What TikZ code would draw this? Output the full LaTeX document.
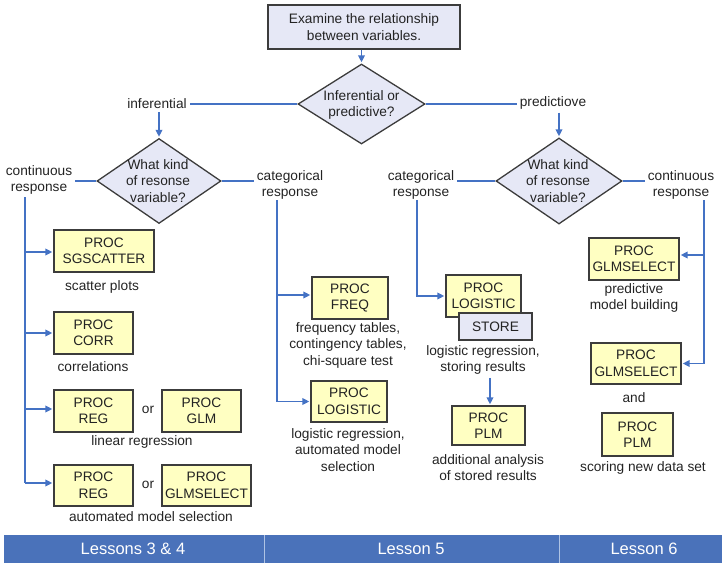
\documentclass[tikz,border=0pt]{standalone}
\usepackage{fontspec}
\setmainfont{Liberation Sans}
\usetikzlibrary{shapes.geometric,arrows.meta,calc}
\definecolor{boxfill}{RGB}{255,255,194}
\definecolor{lav}{RGB}{230,232,246}
\definecolor{edgecol}{RGB}{60,60,60}
\definecolor{conncol}{RGB}{68,114,196}
\definecolor{barcol}{RGB}{74,114,186}
\definecolor{barline}{RGB}{175,195,228}
\definecolor{txt}{RGB}{35,35,35}
\begin{document}
\begin{tikzpicture}[x=1pt,y=-1pt,
  every node/.style={font=\fontsize{13.7}{16.5}\selectfont, text=txt},
  procbox/.style={draw=edgecol, line width=1.3pt, fill=boxfill, align=center, inner sep=0pt},
  lavbox/.style={procbox, fill=lav},
  decision/.style={diamond, draw=edgecol, line width=1.3pt, fill=lav, inner sep=0pt},
  lbl/.style={align=center, inner sep=3pt},
  connline/.style={draw=conncol, line width=1.8pt},
  arr/.style={connline, -{Triangle[length=7pt,width=6.5pt]}, shorten >=1pt},
  bartext/.style={text=white, font=\fontsize{16.5}{18}\selectfont},
]
\useasboundingbox (0,0) rectangle (726,565);

% top box and decisions
\node[lavbox, minimum width=192pt, minimum height=44pt] (top) at (364,27) {Examine the relationship\\between variables.};
\node[decision, minimum width=127pt, minimum height=80pt] (d1) at (361.5,104) {};
\node[lbl, inner sep=0pt] (d1t) at (361.5,105) {Inferential or\\predictive?};
\node[decision, minimum width=124pt, minimum height=85pt] (d2) at (159,181) {};
\node[lbl, inner sep=0pt] (d2t) at (158,181) {What kind\\of resonse\\variable?};
\node[decision, minimum width=126pt, minimum height=86pt] (d3) at (559,181) {};
\node[lbl, inner sep=0pt] (d3t) at (558,181) {What kind\\of resonse\\variable?};

% branch labels
\node[lbl] (inf) at (157,104) {inferential};
\node[lbl] (pred) at (553,103) {predictiove};
\node[lbl] (cont1) at (39,180) {continuous\\response};
\node[lbl] (cat1) at (290,185) {categorical\\response};
\node[lbl] (cat2) at (421,185) {categorical\\response};
\node[lbl] (cont2) at (681,185) {continuous\\response};

% inferential / continuous boxes
\node[procbox, minimum width=100pt, minimum height=42pt] (sg) at (104,251) {PROC\\SGSCATTER};
\node[lbl] (sgl) at (102,287) {scatter plots};
\node[procbox, minimum width=79pt, minimum height=42pt] (corr) at (93.5,333) {PROC\\CORR};
\node[lbl] (corrl) at (93,367) {correlations};
\node[procbox, minimum width=79pt, minimum height=42pt] (reg1) at (93.5,411) {PROC\\REG};
\node[lbl] (or1) at (148,410) {or};
\node[procbox, minimum width=79pt, minimum height=42pt] (glm) at (201.5,411) {PROC\\GLM};
\node[lbl] (regl) at (142,442) {linear regression};
\node[procbox, minimum width=79pt, minimum height=41pt] (reg2) at (93.5,485.5) {PROC\\REG};
\node[lbl] (or2) at (148,485) {or};
\node[procbox, minimum width=89pt, minimum height=41pt] (glms0) at (206.5,485.5) {PROC\\GLMSELECT};
\node[lbl] (autol) at (151,517) {automated model selection};

% inferential / categorical boxes
\node[procbox, minimum width=76pt, minimum height=42pt] (freq) at (350,298) {PROC\\FREQ};
\node[lbl] (freql) at (348,345) {frequency tables,\\contingency tables,\\chi-square test};
\node[procbox, minimum width=76pt, minimum height=41pt] (log1) at (349,401.5) {PROC\\LOGISTIC};
\node[lbl] (log1l) at (348,450) {logistic regression,\\automated model\\selection};

% predictive / categorical boxes
\node[procbox, minimum width=75pt, minimum height=42pt] (log2) at (483.5,296) {PROC\\LOGISTIC};
\node[lavbox, minimum width=73pt, minimum height=27pt] (store) at (495.5,326.5) {STORE};
\node[lbl] (log2l) at (483,360) {logistic regression,\\storing results};
\node[procbox, minimum width=73pt, minimum height=39pt] (plm1) at (488.5,425.5) {PROC\\PLM};
\node[lbl] (plm1l) at (488,467.5) {additional analysis\\of stored results};

% predictive / continuous boxes
\node[procbox, minimum width=90pt, minimum height=42pt] (glms1) at (634,259) {PROC\\GLMSELECT};
\node[lbl] (glms1l) at (634,298) {predictive\\model building};
\node[procbox, minimum width=90pt, minimum height=41pt] (glms2) at (636,363.5) {PROC\\GLMSELECT};
\node[lbl] (andl) at (634,398) {and};
\node[procbox, minimum width=71pt, minimum height=43pt] (plm2) at (637.5,434.5) {PROC\\PLM};
\node[lbl] (plm2l) at (643,468) {scoring new data set};

% trunk coordinates
\coordinate (t1) at (25,197);
\coordinate (t2) at (277,200);
\coordinate (t3) at (417,200);
\coordinate (t4) at (704,200);

% connectors
\draw[arr] (top.south -| d1.north) -- (d1.north);
\draw[connline] (d1.west) -- (d1.west -| inf.east);
\draw[connline] (d1.east) -- (d1.east -| pred.west);
\draw[arr] (inf.south -| d2.north) -- (d2.north);
\draw[arr] (pred.south -| d3.north) -- (d3.north);
\draw[connline] (d2.west) -- (d2.west -| cont1.east);
\draw[connline] (d2.east) -- (d2.east -| cat1.west);
\draw[connline] (d3.west) -- (d3.west -| cat2.east);
\draw[connline] (d3.east) -- (d3.east -| cont2.west);

\draw[connline] (t1) -- ($(t1 |- reg2.west)+(0,-2.5)$);
\draw[arr] ($(t1 |- sg.west)+(0,1)$) -- ($(sg.west)+(0,1)$);
\draw[arr] (t1 |- corr.west) -- (corr.west);
\draw[arr] ($(t1 |- reg1.west)+(0,-2)$) -- ($(reg1.west)+(0,-2)$);
\draw[arr] ($(t1 |- reg2.west)+(0,-2.5)$) -- ($(reg2.west)+(0,-2.5)$);

\draw[connline] (t2) -- (t2 |- log1.west);
\draw[arr] ($(t2 |- freq.west)+(0,-3)$) -- ($(freq.west)+(0,-3)$);
\draw[arr] (t2 |- log1.west) -- (log1.west);

\draw[arr] (t3) |- (log2.west);

\draw[connline] (t4) -- (t4 |- glms2.east);
\draw[arr] ($(t4 |- glms1.east)+(0,-4)$) -- ($(glms1.east)+(0,-4)$);
\draw[arr] (t4 |- glms2.east) -- (glms2.east);

\draw[arr] ($(log2l.south -| plm1.north)+(1.5,0)$) -- ($(plm1.north)+(1.5,0)$);

% bottom bar
\fill[barcol] (4,535) rectangle (722,563);
\draw[barline, line width=0.8pt] (264,535) -- (264,563);
\draw[barline, line width=0.8pt] (559,535) -- (559,563);
\node[bartext] (l34) at (133,549) {Lessons 3 \& 4};
\node[bartext] (l5) at (411,549) {Lesson 5};
\node[bartext] (l6) at (644,549) {Lesson 6};
\end{tikzpicture}
\end{document}
